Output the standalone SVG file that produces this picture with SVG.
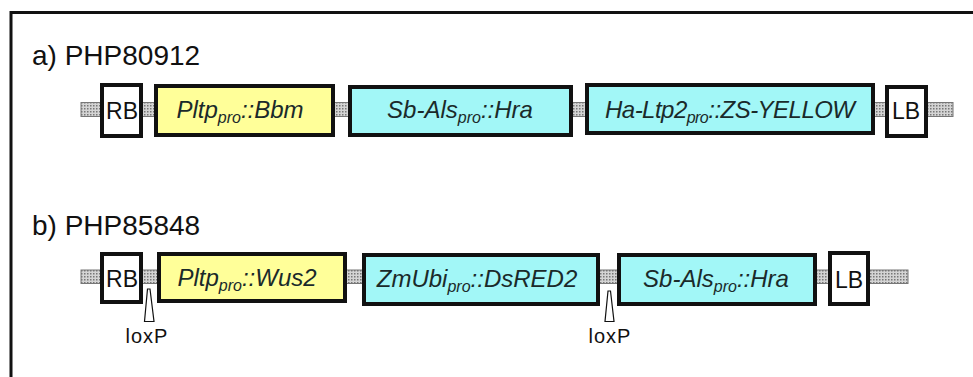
<svg xmlns="http://www.w3.org/2000/svg" width="973" height="377" viewBox="0 0 973 377">
<defs>
<pattern id="dots" width="3" height="3" patternUnits="userSpaceOnUse">
<rect width="3" height="3" fill="#d4d4d4"/>
<rect width="1.5" height="1.5" fill="#777"/>
</pattern>
<style>
.frame{fill:none;stroke:#111;stroke-width:3}
.bb{fill:url(#dots);stroke:#777;stroke-width:1}
.box{stroke:#111;stroke-width:4}
.w{fill:#fff}.y{fill:#ffff99}.c{fill:#a2f7f7}
.h{font-family:"Liberation Sans",Arial,sans-serif;font-size:28px;fill:#111}
.bl{font-family:"Liberation Sans",Arial,sans-serif;font-size:23px;fill:#111;text-anchor:middle}
.lab{font-family:"Liberation Sans",Arial,sans-serif;font-size:24px;font-style:italic;fill:#1a2a2a;text-anchor:middle}
.sub{font-size:16px}
.lox{fill:#fff;stroke:#111;stroke-width:1.2}
.lt{font-family:"Liberation Sans",Arial,sans-serif;font-size:20px;fill:#111;text-anchor:middle;letter-spacing:1px}
</style>
</defs>
<rect class="frame" x="11" y="12.5" width="990" height="400"/>
<text class="h" x="32" y="65">a) PHP80912</text>
<text class="h" x="32" y="235">b) PHP85848</text>
<g id="connectors">
<rect class="bb" x="81" y="102.5" width="872" height="14"/>
<rect class="bb" x="81" y="270" width="827" height="13.5"/>
</g>
<g id="a-RB"><rect class="box w" x="102" y="85" width="39" height="51"/><text class="bl" x="122" y="118.5">RB</text></g>
<g id="a-Pltp"><rect class="box y" x="156" y="86" width="177" height="49"/><text class="lab" x="240" y="118">Pltp<tspan class="sub" dy="5">pro</tspan><tspan dy="-5">::Bbm</tspan></text></g>
<g id="a-SbAls"><rect class="box c" x="350" y="87" width="221" height="48"/><text class="lab" x="460" y="118">Sb-Als<tspan class="sub" dy="5">pro</tspan><tspan dy="-5">::Hra</tspan></text></g>
<g id="a-HaLtp2"><rect class="box c" x="587" y="85" width="286" height="48"/><text class="lab" x="730" y="118" textLength="250">Ha-Ltp2<tspan class="sub" dy="5">pro</tspan><tspan dy="-5">::ZS-YELLOW</tspan></text></g>
<g id="a-LB"><rect class="box w" x="887" y="87" width="39" height="49"/><text class="bl" x="906" y="119">LB</text></g>
<g id="b-RB"><rect class="box w" x="102" y="254" width="39" height="48"/><text class="bl" x="122" y="286.5">RB</text></g>
<g id="b-Pltp"><rect class="box y" x="159" y="254" width="186" height="47"/><text class="lab" x="247" y="286">Pltp<tspan class="sub" dy="5">pro</tspan><tspan dy="-5">::Wus2</tspan></text></g>
<g id="b-ZmUbi"><rect class="box c" x="364" y="255" width="234" height="49"/><text class="lab" x="477" y="287">ZmUbi<tspan class="sub" dy="5">pro</tspan><tspan dy="-5">::DsRED2</tspan></text></g>
<g id="b-SbAls"><rect class="box c" x="619" y="255" width="196" height="49"/><text class="lab" x="716" y="287">Sb-Als<tspan class="sub" dy="5">pro</tspan><tspan dy="-5">::Hra</tspan></text></g>
<g id="b-LB"><rect class="box w" x="830" y="253" width="38" height="51"/><text class="bl" x="849" y="287.5">LB</text></g>
<g id="loxP1"><path class="lox" d="M147.5 289 L150 289 L154 321.5 L144.5 321.5 Z"/><text class="lt" x="147" y="343">loxP</text></g>
<g id="loxP2"><path class="lox" d="M608 291 L610.5 291 L614 321.5 L605 321.5 Z"/><text class="lt" x="610" y="343">loxP</text></g>
</svg>
